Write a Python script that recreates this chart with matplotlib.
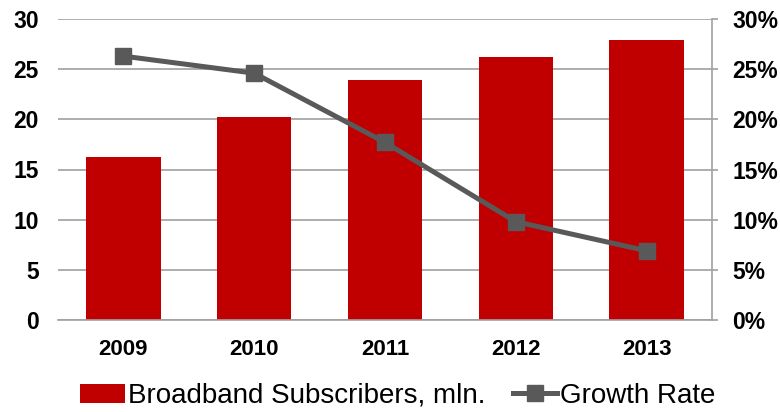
import numpy as np
import matplotlib.pyplot as plt
from matplotlib.ticker import PercentFormatter

plt.rcParams['font.family'] = ['Liberation Sans', 'DejaVu Sans']

years = ['2009', '2010', '2011', '2012', '2013']
subscribers = [16.25, 20.2, 23.9, 26.2, 27.9]
growth = [26.3, 24.6, 17.7, 9.8, 6.9]

fig = plt.figure(figsize=(7.8, 4.12), dpi=100)
ax = fig.add_axes([58 / 780, 1 - 320 / 412, 654 / 780, 301 / 412])
x = np.arange(len(years))

bars = ax.bar(x, subscribers, width=0.57, color='#C00000', zorder=2,
              label='Broadband Subscribers, mln.')
ax.set_xlim(-0.5, 4.5)
ax.set_ylim(0, 30)
ax.set_yticks(range(0, 31, 5))
ax.yaxis.grid(True, color='#A0A0A0', linewidth=1.2, zorder=0)
ax.set_axisbelow(True)
for s in ['left', 'top', 'right']:
    ax.spines[s].set_visible(False)
ax.spines['bottom'].set_color('#A0A0A0')
ax.spines['bottom'].set_linewidth(1.2)
ax.tick_params(axis='y', length=0, labelsize=16.5, pad=14)
ax.tick_params(axis='x', length=0, labelsize=16, pad=14)
ax.set_xticks(x)
ax.set_xticklabels(years, fontweight='bold')
for lbl in ax.get_yticklabels():
    lbl.set_fontweight('bold')

ax2 = ax.twinx()
line, = ax2.plot(x, growth, color='#595959', linewidth=3.6, marker='s',
                 markersize=12, zorder=3, label='Growth Rate')
ax2.set_ylim(0, 30)
ax2.set_yticks(range(0, 31, 5))
ax2.yaxis.set_major_formatter(PercentFormatter(decimals=0))
for s in ['left', 'top', 'bottom']:
    ax2.spines[s].set_visible(False)
ax2.spines['right'].set_color('#A0A0A0')
ax2.spines['right'].set_linewidth(1.2)
ax2.tick_params(axis='y', direction='out', length=4.5, width=1.2, color='#A0A0A0',
                labelsize=16.5, pad=10)
for lbl in ax2.get_yticklabels():
    lbl.set_fontweight('bold')

fig.legend([bars, line], ['Broadband Subscribers, mln.', 'Growth Rate'],
           loc='center', bbox_to_anchor=(0.51, 1 - 396 / 412), ncol=2,
           frameon=False, fontsize=20, handlelength=1.6, handletextpad=0.1,
           columnspacing=1.0, borderaxespad=0)

fig.savefig('out.png', dpi=100)
